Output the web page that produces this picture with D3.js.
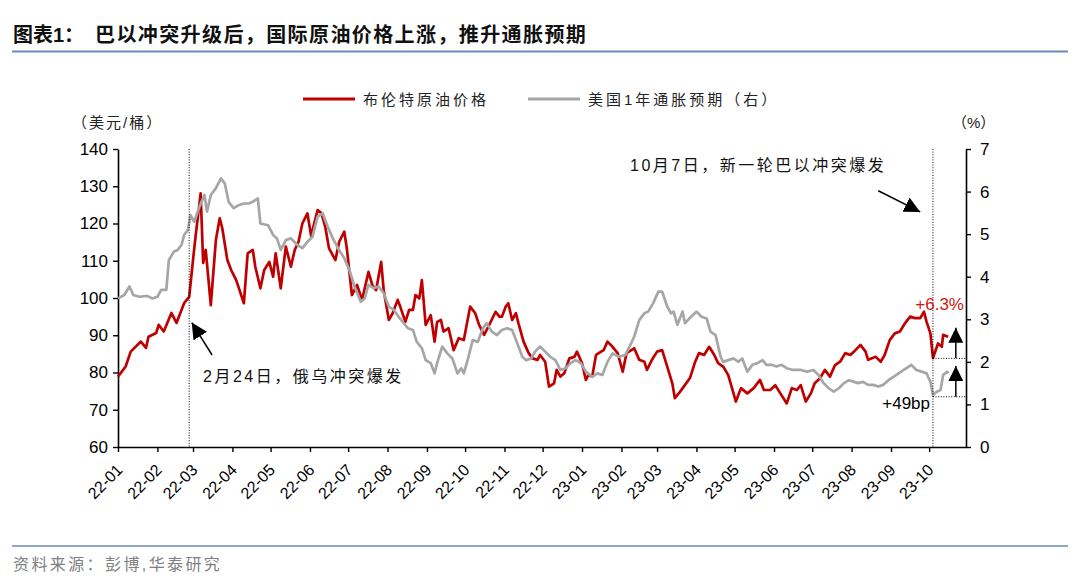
<!DOCTYPE html>
<html><head><meta charset="utf-8">
<script src="https://cdn.jsdelivr.net/npm/d3@7/dist/d3.min.js"></script>
<style>body{margin:0;background:#fff} svg{display:block}</style>
</head><body><svg id="c" width="1080" height="583"></svg>
<script>
// ---- data ----
const brentDates=["22-01-01","22-01-07","22-01-11","22-01-19","22-01-23","22-01-25","22-01-31","22-02-02","22-02-06","22-02-12","22-02-16","22-02-22","22-02-26","22-03-01","22-03-03","22-03-07","22-03-09","22-03-11","22-03-15","22-03-19","22-03-22","22-03-24","22-03-28","22-03-31","22-04-04","22-04-06","22-04-10","22-04-13","22-04-17","22-04-19","22-04-23","22-04-26","22-04-30","22-05-03","22-05-05","22-05-09","22-05-13","22-05-17","22-05-20","22-05-23","22-05-26","22-05-30","22-06-02","22-06-04","22-06-07","22-06-10","22-06-13","22-06-16","22-06-21","22-06-24","22-06-28","22-06-30","22-07-04","22-07-08","22-07-12","22-07-17","22-07-20","22-07-23","22-07-27","22-07-29","22-08-02","22-08-05","22-08-09","22-08-11","22-08-15","22-08-18","22-08-21","22-08-23","22-08-26","22-08-28","22-08-31","22-09-04","22-09-07","22-09-09","22-09-12","22-09-14","22-09-18","22-09-22","22-09-26","22-09-30","22-10-05","22-10-09","22-10-12","22-10-16","22-10-20","22-10-25","22-10-28","22-10-30","22-11-02","22-11-04","22-11-07","22-11-10","22-11-12","22-11-16","22-11-20","22-11-23","22-11-27","22-11-29","22-12-03","22-12-06","22-12-10","22-12-12","22-12-15","22-12-18","22-12-22","22-12-26","22-12-28","23-01-01","23-01-04","23-01-06","23-01-09","23-01-12","23-01-16","23-01-18","23-01-21","23-01-25","23-01-29","23-02-02","23-02-05","23-02-11","23-02-15","23-02-19","23-02-21","23-02-25","23-03-01","23-03-05","23-03-09","23-03-13","23-03-15","23-03-19","23-03-22","23-03-27","23-03-31","23-04-03","23-04-07","23-04-11","23-04-15","23-04-18","23-04-22","23-04-26","23-05-02","23-05-06","23-05-11","23-05-16","23-05-21","23-05-24","23-05-29","23-06-02","23-06-06","23-06-11","23-06-15","23-06-19","23-06-22","23-06-26","23-06-30","23-07-03","23-07-07","23-07-11","23-07-15","23-07-19","23-07-23","23-07-27","23-07-31","23-08-04","23-08-08","23-08-12","23-08-14","23-08-20","23-08-24","23-08-27","23-08-31","23-09-04","23-09-08","23-09-12","23-09-16","23-09-20","23-09-24","23-09-27","23-09-29","23-10-02","23-10-04","23-10-08","23-10-11","23-10-12","23-10-16"];
const brentValues=[78.9,81.6,85.6,88.3,86.6,89.6,90.6,92.8,91.0,96.0,93.3,98.6,100.3,110.2,116.5,128.1,109.4,112.9,98.1,115.6,121.4,118.8,110.2,107.5,104.8,102.7,98.6,112.0,112.9,108.4,102.6,107.5,109.7,105.7,112.0,102.6,113.8,108.4,112.9,115.1,120.0,122.7,116.5,119.6,123.6,122.8,119.1,113.3,110.2,115.1,117.8,113.3,100.8,103.5,99.5,107.0,103.5,102.1,109.7,102.1,94.1,95.9,99.5,97.7,93.6,96.8,96.8,100.8,99.9,104.8,92.8,95.4,88.3,93.6,94.1,91.0,91.9,86.0,89.2,88.7,97.7,95.9,92.8,90.1,92.8,96.3,95.0,95.0,97.7,98.6,94.1,95.9,93.2,88.3,85.2,83.8,83.4,84.7,82.9,76.2,77.1,80.7,78.9,79.8,83.8,84.2,85.6,82.5,78.0,79.3,78.9,84.7,85.6,86.0,88.3,86.9,85.2,80.2,85.2,86.5,83.4,82.9,80.7,83.4,85.6,86.0,81.6,77.1,73.1,74.8,76.2,78.6,82.9,85.2,84.7,86.9,84.7,82.5,81.6,79.3,72.2,75.8,74.4,75.8,78.0,75.3,75.3,76.6,74.4,71.7,75.8,75.3,76.6,72.2,74.4,77.1,78.4,80.7,78.9,82.0,82.9,85.2,84.7,86.0,87.4,85.6,83.4,84.2,82.9,84.7,88.7,90.5,91.0,93.2,95.0,94.6,94.6,96.3,93.6,90.5,83.9,87.8,86.9,90.1,89.6];
const inflDates=["22-01-01","22-01-06","22-01-10","22-01-13","22-01-18","22-01-24","22-01-28","22-02-01","22-02-04","22-02-08","22-02-10","22-02-14","22-02-17","22-02-20","22-02-22","22-02-25","22-02-27","22-03-02","22-03-06","22-03-10","22-03-12","22-03-15","22-03-19","22-03-23","22-03-26","22-03-29","22-04-02","22-04-06","22-04-10","22-04-14","22-04-17","22-04-21","22-04-23","22-04-29","22-05-03","22-05-06","22-05-09","22-05-13","22-05-17","22-05-22","22-05-26","22-05-30","22-06-03","22-06-07","22-06-11","22-06-15","22-06-19","22-06-23","22-06-28","22-07-02","22-07-06","22-07-11","22-07-14","22-07-17","22-07-21","22-07-25","22-07-29","22-08-02","22-08-06","22-08-10","22-08-17","22-08-21","22-08-24","22-08-28","22-08-31","22-09-04","22-09-07","22-09-09","22-09-13","22-09-17","22-09-21","22-09-25","22-09-28","22-09-30","22-10-03","22-10-07","22-10-11","22-10-15","22-10-18","22-10-22","22-10-26","22-10-30","22-11-03","22-11-07","22-11-11","22-11-15","22-11-18","22-11-22","22-11-25","22-11-29","22-12-03","22-12-07","22-12-11","22-12-15","22-12-19","22-12-23","22-12-27","22-12-31","23-01-04","23-01-09","23-01-13","23-01-17","23-01-21","23-01-25","23-01-30","23-02-04","23-02-08","23-02-11","23-02-15","23-02-19","23-02-22","23-02-26","23-03-02","23-03-05","23-03-09","23-03-12","23-03-14","23-03-17","23-03-21","23-03-23","23-03-27","23-04-01","23-04-05","23-04-09","23-04-12","23-04-16","23-04-20","23-04-22","23-04-26","23-04-30","23-05-04","23-05-07","23-05-11","23-05-15","23-05-19","23-05-23","23-05-26","23-05-30","23-06-03","23-06-07","23-06-11","23-06-16","23-06-22","23-06-27","23-07-02","23-07-06","23-07-10","23-07-14","23-07-18","23-07-22","23-07-26","23-07-30","23-08-03","23-08-06","23-08-10","23-08-14","23-08-18","23-08-22","23-08-26","23-08-30","23-09-03","23-09-07","23-09-11","23-09-15","23-09-17","23-09-21","23-09-25","23-09-29","23-10-02","23-10-04","23-10-07","23-10-10","23-10-12","23-10-15","23-10-16"];
const inflValues=[3.49,3.57,3.77,3.57,3.53,3.55,3.49,3.53,3.69,3.69,4.39,4.59,4.63,4.75,4.98,5.10,5.45,5.29,5.64,5.92,5.53,5.92,6.08,6.31,6.19,5.76,5.61,5.68,5.72,5.72,5.76,5.84,5.25,5.21,4.98,4.90,4.63,4.86,4.90,4.75,4.67,4.82,4.94,5.41,5.49,5.17,4.90,4.67,4.43,4.16,3.77,3.41,3.49,3.81,3.73,3.77,3.61,3.30,3.22,3.05,2.79,2.75,2.47,2.32,2.04,1.97,1.73,1.97,2.36,2.20,2.08,1.73,1.85,1.73,2.04,2.51,2.47,2.79,2.91,2.71,2.63,2.75,2.79,2.75,2.44,2.12,2.04,2.08,2.24,2.36,2.24,2.12,2.04,1.81,1.85,1.97,2.04,1.97,1.77,1.65,1.73,1.69,2.00,2.20,2.12,2.16,2.40,2.59,2.98,3.14,3.18,3.38,3.65,3.65,3.30,3.14,3.18,2.87,3.18,2.91,3.04,3.18,3.06,3.02,2.71,2.63,2.12,2.00,2.04,2.08,2.00,2.08,1.77,1.93,1.97,2.04,1.93,1.93,1.89,1.93,1.85,1.81,1.81,1.77,1.81,1.69,1.50,1.38,1.30,1.38,1.50,1.57,1.53,1.50,1.53,1.46,1.46,1.42,1.46,1.57,1.65,1.73,1.81,1.89,1.93,1.81,1.77,1.73,1.53,1.22,1.30,1.34,1.69,1.77,1.73];
const leftTicks=[60,70,80,90,100,110,120,130,140];
const rightTicks=[0,1,2,3,4,5,6,7];
const monthTicks=["22-01","22-02","22-03","22-04","22-05","22-06","22-07","22-08","22-09","22-10","22-11","22-12","23-01","23-02","23-03","23-04","23-05","23-06","23-07","23-08","23-09","23-10"];
const seriesNames=["布伦特原油价格","美国1年通胀预期（右）"];
const eventDates=["22-02-26","23-10-04"];           // dotted lines as placed in the picture
const brentLow=83.8, brentArrowTop=92.0;            // +6.3%
const inflLow=1.18, inflArrowTop=1.90;              // +49bp
const arrowDate="23-10-22";

// ---- setup ----
const pd=d3.timeParse("%y-%m-%d"), pm=d3.timeParse("%y-%m");
const RED="#C00000", GRAY="#A6A6A6";
const NUM="'Liberation Sans', Arial, sans-serif";
const CJK="'Liberation Sans','Noto Sans CJK SC',sans-serif";
const svg=d3.select("#c");
const x=d3.scaleTime().domain([pd("22-01-01"),pd("23-10-30")]).range([118,966]);
const yL=d3.scaleLinear().domain([60,140]).range([447,149]);
const yR=d3.scaleLinear().domain([0,7]).range([447,149]);

const defs=svg.append("defs");
defs.append("marker").attr("id","tri").attr("viewBox","0 0 10 10").attr("refX",10).attr("refY",5)
  .attr("markerWidth",16).attr("markerHeight",16).attr("markerUnits","userSpaceOnUse").attr("orient","auto")
  .append("path").attr("d","M0,0L10,5L0,10Z").attr("fill","#000");
defs.append("marker").attr("id","tri2").attr("viewBox","0 0 10 10").attr("refX",10).attr("refY",5)
  .attr("markerWidth",15).attr("markerHeight",15).attr("markerUnits","userSpaceOnUse").attr("orient","auto")
  .append("path").attr("d","M0,0L10,5L0,10Z").attr("fill","#000");

// title
svg.append("text").attr("x",13).attr("y",42).attr("font-family",CJK).attr("font-weight","bold")
  .attr("font-size",20).attr("fill","#111").text("图表1：");
svg.append("text").attr("x",95).attr("y",42).attr("font-family",CJK).attr("font-weight","bold")
  .attr("font-size",20).attr("letter-spacing",1.4).attr("fill","#111").text("巴以冲突升级后，国际原油价格上涨，推升通胀预期");
svg.append("line").attr("x1",12).attr("x2",1068).attr("y1",51.5).attr("y2",51.5).attr("stroke","#6A8BB3").attr("stroke-width",2);

// footer
svg.append("line").attr("x1",12).attr("x2",1068).attr("y1",546).attr("y2",546).attr("stroke","#6A8BB3").attr("stroke-width",1.5);
svg.append("text").attr("x",13).attr("y",570).attr("font-family",CJK).attr("font-size",16).attr("letter-spacing",2.4)
  .attr("fill","#808080").text("资料来源：彭博,华泰研究");

// legend
const lg=[{c:RED,x:303},{c:GRAY,x:528}];
lg.forEach((l,i)=>{
  svg.append("line").attr("x1",l.x).attr("x2",l.x+52).attr("y1",99).attr("y2",99).attr("stroke",l.c).attr("stroke-width",3);
  svg.append("text").attr("x",l.x+60).attr("y",105).attr("font-family",CJK).attr("font-size",15).attr("letter-spacing",3)
    .attr("fill","#222").text(seriesNames[i]);
});

// unit labels
svg.append("text").attr("x",72).attr("y",128).attr("font-family",CJK).attr("font-size",15).attr("letter-spacing",2).attr("fill","#222").text("（美元/桶）");
svg.append("text").attr("x",952).attr("y",128).attr("font-family",CJK).attr("font-size",15).attr("fill","#222").text("（%）");

// axes
function styleAxis(g){
  g.select(".domain").attr("stroke","#000").attr("stroke-width",1.6);
  g.selectAll(".tick line").attr("stroke","#000").attr("stroke-width",1.4);
  g.selectAll("text").attr("font-family",NUM).attr("font-size",17).attr("fill","#000");
}
svg.append("g").attr("transform","translate(118,0)")
  .call(d3.axisLeft(yL).tickValues(leftTicks).tickFormat(d3.format("d")).tickSize(5).tickPadding(5).tickSizeOuter(0)).call(styleAxis);
svg.append("g").attr("transform","translate(966,0)")
  .call(d3.axisRight(yR).tickValues(rightTicks).tickFormat(d3.format("d")).tickSize(5).tickPadding(9).tickSizeOuter(0)).call(styleAxis);
const xa=svg.append("g").attr("transform","translate(0,447)")
  .call(d3.axisBottom(x).tickValues(monthTicks.map(pm)).tickFormat(d3.timeFormat("%y-%m")).tickSize(5).tickSizeOuter(0)).call(styleAxis);
xa.selectAll(".tick text").attr("font-size",16).attr("x",0).attr("y",0).attr("dy",0)
  .attr("text-anchor","end").attr("transform","translate(5,24) rotate(-45)");

// series
const brent=brentDates.map((d,i)=>({d:pd(d),v:brentValues[i]}));
const infl=inflDates.map((d,i)=>({d:pd(d),v:inflValues[i]}));
svg.append("path").datum(brent).attr("fill","none").attr("stroke",RED).attr("stroke-width",2.7).attr("stroke-linejoin","round")
  .attr("d",d3.line().x(p=>x(p.d)).y(p=>yL(p.v)));
svg.append("path").datum(infl).attr("fill","none").attr("stroke",GRAY).attr("stroke-width",2.7).attr("stroke-linejoin","round")
  .attr("d",d3.line().x(p=>x(p.d)).y(p=>yR(p.v)));

// event lines
eventDates.forEach(e=>{
  svg.append("line").attr("x1",x(pd(e))).attr("x2",x(pd(e))).attr("y1",149).attr("y2",447)
    .attr("stroke","#000").attr("stroke-width",1).attr("stroke-dasharray","1,1.6");
});
// dotted baselines at post-conflict lows
const e2=x(pd(eventDates[1]));
[[yL(brentLow)],[yR(inflLow)]].forEach(([yy])=>{
  svg.append("line").attr("x1",e2).attr("x2",966).attr("y1",yy).attr("y2",yy)
    .attr("stroke","#000").attr("stroke-width",1).attr("stroke-dasharray","1,1.6");
});
// up arrows
const ax=x(pd(arrowDate));
svg.append("line").attr("x1",ax).attr("x2",ax).attr("y1",yL(brentLow)).attr("y2",yL(brentArrowTop))
  .attr("stroke","#000").attr("stroke-width",1.5).attr("marker-end","url(#tri2)");
svg.append("line").attr("x1",ax).attr("x2",ax).attr("y1",yR(inflLow)).attr("y2",yR(inflArrowTop))
  .attr("stroke","#000").attr("stroke-width",1.5).attr("marker-end","url(#tri2)");

// annotation arrows (in data space)
svg.append("line").attr("x1",x(pd("22-03-16"))).attr("y1",yL(84.7)).attr("x2",x(pd("22-02-28"))).attr("y2",yL(93.4))
  .attr("stroke","#000").attr("stroke-width",1.5).attr("marker-end","url(#tri)");
svg.append("line").attr("x1",x(pd("23-08-22"))).attr("y1",yL(128.8)).attr("x2",x(pd("23-09-24"))).attr("y2",yL(123.1))
  .attr("stroke","#000").attr("stroke-width",1.5).attr("marker-end","url(#tri)");

// annotation texts
svg.append("text").attr("x",203).attr("y",382).attr("font-family",CJK).attr("font-size",16).attr("letter-spacing",2.5)
  .attr("fill","#111").text("2月24日，俄乌冲突爆发");
svg.append("text").attr("x",630).attr("y",171).attr("font-family",CJK).attr("font-size",16).attr("letter-spacing",2.5)
  .attr("fill","#111").text("10月7日，新一轮巴以冲突爆发");
svg.append("text").attr("x",964).attr("y",310).attr("text-anchor","end").attr("font-family",NUM).attr("font-size",17)
  .attr("fill","#D01515").text("+6.3%");
svg.append("text").attr("x",930).attr("y",409).attr("text-anchor","end").attr("font-family",NUM).attr("font-size",17)
  .attr("fill","#000").text("+49bp");
</script></body></html>
